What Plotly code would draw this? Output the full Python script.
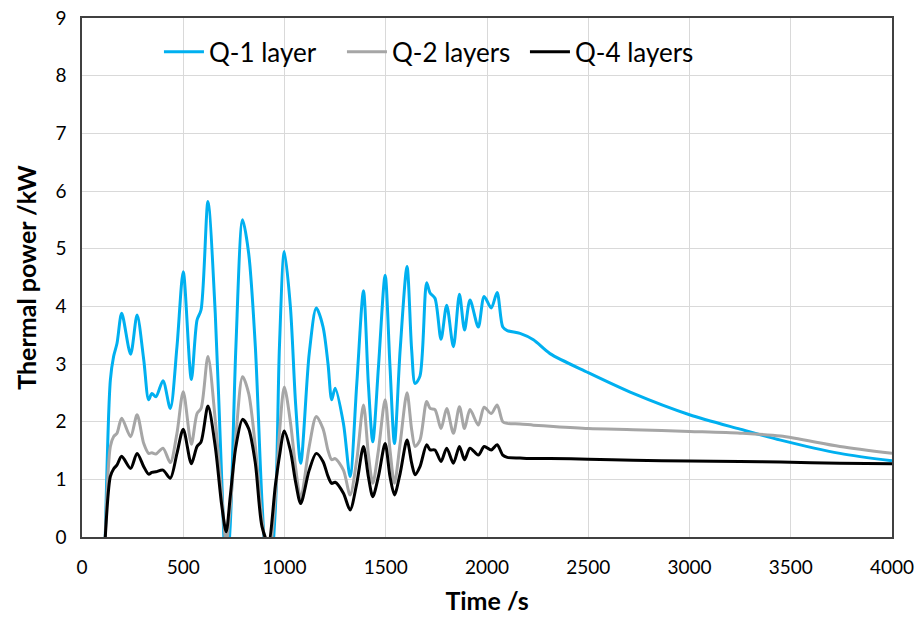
import plotly.graph_objects as go

time_s = [115, 140, 156, 173, 196, 240, 272, 305, 329, 345, 365, 400, 436, 469, 500, 540, 568, 588, 622, 658,
          690, 712, 732, 760, 793, 823, 856, 889, 920, 955, 975, 999, 1029, 1055, 1080, 1122, 1157, 1190, 1215,
          1233, 1250, 1291, 1324, 1357, 1390, 1414, 1436, 1464, 1497, 1521, 1543, 1571, 1605, 1628, 1645, 1669,
          1702, 1719, 1743, 1773, 1801, 1834, 1864, 1889, 1916, 1957, 1986, 2021, 2050, 2078, 2100, 2163, 2229,
          2311, 2500, 2722, 3000, 3250, 3450, 3743, 4000]

q1_layer = [0, 2.72, 3.13, 3.36, 3.88, 3.17, 3.85, 3.07, 2.38, 2.49, 2.43, 2.71, 2.23, 3.30, 4.60, 2.73, 3.76, 3.94, 5.82, 3.88,
            1.0, -0.7, 0.2, 3.3, 5.5, 4.92, 3.3, 0.6, -1.0, 0.5, 3.3, 4.95, 4.0, 2.3, 1.28, 3.18, 3.97, 3.65, 3.0,
            2.38, 2.58, 1.97, 1.05, 2.66, 4.27, 2.66, 1.65, 2.95, 4.54, 2.95, 1.62, 3.24, 4.69, 3.24, 2.66, 2.79,
            4.41, 4.23, 4.14, 3.43, 4.02, 3.30, 4.21, 3.59, 4.11, 3.64, 4.17, 3.97, 4.24, 3.64, 3.58, 3.53, 3.42,
            3.18, 2.85, 2.49, 2.12, 1.87, 1.68, 1.45, 1.32]

q2_layers = [0, 1.57, 1.74, 1.80, 2.06, 1.74, 2.12, 1.62, 1.45, 1.46, 1.44, 1.54, 1.29, 1.80, 2.52, 1.61, 2.14, 2.23, 3.13, 2.03,
             0.72, -0.1, 0.5, 1.75, 2.78, 2.49, 1.57, 0.3, -0.4, 0.7, 1.8, 2.60, 2.0, 1.2, 0.67, 1.57, 2.09, 1.88, 1.5,
             1.34, 1.36, 1.16, 0.73, 1.34, 2.29, 1.45, 0.93, 1.51, 2.38, 1.51, 0.93, 1.62, 2.50, 1.86, 1.57, 1.68,
             2.35, 2.23, 2.21, 1.88, 2.23, 1.80, 2.26, 1.88, 2.21, 1.94, 2.25, 2.14, 2.29, 2.00, 1.97, 1.96, 1.94,
             1.92, 1.88, 1.86, 1.83, 1.80, 1.75, 1.57, 1.45]

q4_layers = [0, 1.05, 1.18, 1.25, 1.40, 1.19, 1.45, 1.22, 1.09, 1.12, 1.13, 1.16, 1.02, 1.45, 1.87, 1.27, 1.57, 1.65, 2.27, 1.57,
             0.55, 0.09, 0.70, 1.57, 2.04, 1.88, 1.28, 0.18, -0.1, 0.9, 1.4, 1.84, 1.5, 0.95, 0.58, 1.16, 1.45, 1.31, 1.05,
             0.93, 0.95, 0.76, 0.47, 0.93, 1.57, 1.05, 0.70, 1.05, 1.62, 1.05, 0.73, 1.10, 1.68, 1.28, 1.08, 1.22,
             1.60, 1.51, 1.51, 1.31, 1.54, 1.28, 1.57, 1.34, 1.54, 1.42, 1.57, 1.51, 1.60, 1.42, 1.38, 1.37, 1.36,
             1.36, 1.35, 1.33, 1.32, 1.31, 1.30, 1.28, 1.27]

series = [("Q-1 layer", q1_layer, "#00B0F0"),
          ("Q-2 layers", q2_layers, "#A6A6A6"),
          ("Q-4 layers", q4_layers, "#000000")]

fig = go.Figure()
for name, vals, col in series:
    fig.add_trace(go.Scatter(x=time_s, y=vals, name=name, mode="lines",
                             line=dict(color=col, width=3, shape="spline", smoothing=0.8)))

font_family = "Lato, 'Open Sans', sans-serif"
fig.update_layout(
    width=922, height=617,
    margin=dict(l=82, r=30, t=18, b=80, autoexpand=False),
    paper_bgcolor="white", plot_bgcolor="white",
    font=dict(family=font_family, color="#000000", size=19),
    legend=dict(orientation="h", x=0.095, y=0.935, xanchor="left", yanchor="middle",
                font=dict(size=26), bgcolor="rgba(0,0,0,0)", itemwidth=40,
                entrywidth=128, entrywidthmode="pixels"),
    showlegend=True,
)
fig.update_xaxes(range=[0, 4000], dtick=500, tick0=0, showgrid=True, gridcolor="#D9D9D9", gridwidth=1,
                 showline=True, linecolor="#404040", linewidth=1.5, mirror=True, ticks="",
                 ticklabelstandoff=12, zeroline=False, automargin=False,
                 title=dict(text="<b>Time /s</b>", font=dict(size=25), standoff=16))
fig.update_yaxes(range=[0, 9], dtick=1, tick0=0, showgrid=True, gridcolor="#D9D9D9", gridwidth=1,
                 showline=True, linecolor="#404040", linewidth=1.5, mirror=True, ticks="",
                 ticklabelstandoff=10, zeroline=False, automargin=False,
                 title=dict(text="<b>Thermal power /kW</b>", font=dict(size=25), standoff=12))

fig.write_html("out.html")
